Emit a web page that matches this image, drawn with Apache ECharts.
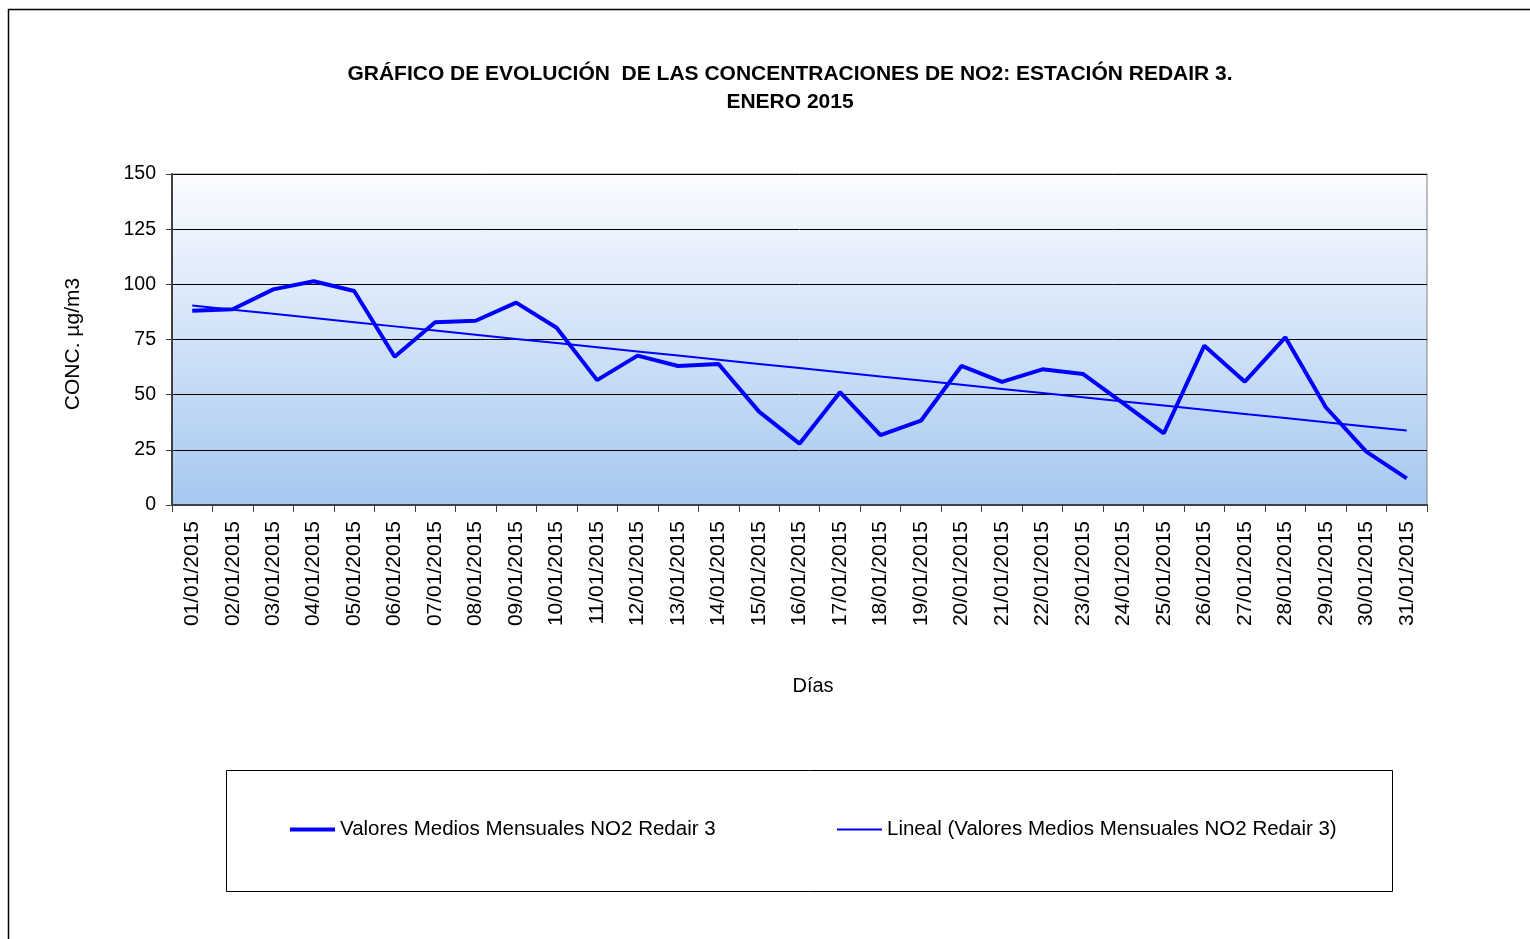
<!DOCTYPE html>
<html>
<head>
<meta charset="utf-8">
<title>NO2 Redair 3 - Enero 2015</title>
<script src="https://cdn.jsdelivr.net/npm/echarts@6/dist/echarts.min.js"></script>
<style>
  html, body { margin: 0; padding: 0; background: #fff; }
  #chart { width: 1530px; height: 939px; }
</style>
</head>
<body>
<div id="chart"></div>
<script>
// días de enero 2015
const dias = [
  '01/01/2015', '02/01/2015', '03/01/2015', '04/01/2015', '05/01/2015', '06/01/2015',
  '07/01/2015', '08/01/2015', '09/01/2015', '10/01/2015', '11/01/2015', '12/01/2015',
  '13/01/2015', '14/01/2015', '15/01/2015', '16/01/2015', '17/01/2015', '18/01/2015',
  '19/01/2015', '20/01/2015', '21/01/2015', '22/01/2015', '23/01/2015', '24/01/2015',
  '25/01/2015', '26/01/2015', '27/01/2015', '28/01/2015', '29/01/2015', '30/01/2015',
  '31/01/2015'
];
// valores medios NO2 (µg/m3)
const valoresNO2 = [
  88, 88.7, 97.7, 101.4, 97, 67.2, 82.8, 83.5, 91.7, 80.3,
  56.6, 67.7, 63, 63.9, 42.3, 27.8, 51.1, 31.7, 38.2, 63,
  55.8, 61.5, 59.4, 46.1, 32.5, 72.2, 55.9, 76, 44.3, 24.2,
  12.1
];
// marcas del eje Y
const yMin = 0;
const yMax = 150;
const yPaso = 25;

const nombreSerie = 'Valores Medios Mensuales NO2 Redair 3';
const nombreTendencia = 'Lineal (Valores Medios Mensuales NO2 Redair 3)';

// recta de regresión lineal (mínimos cuadrados) sobre los valores
const ajusteLineal = (ys) => {
  const n = ys.length;
  let sx = 0, sy = 0, sxy = 0, sxx = 0;
  ys.forEach((y, i) => {
    const x = i + 1;
    sx += x; sy += y; sxy += x * y; sxx += x * x;
  });
  const b = (n * sxy - sx * sy) / (n * sxx - sx * sx);
  const a = (sy - b * sx) / n;
  return ys.map((_, i) => +(a + b * (i + 1)).toFixed(2));
};
const tendencia = ajusteLineal(valoresNO2);

const fuente = '"Liberation Sans", Arial, sans-serif';
const chart = echarts.init(document.getElementById('chart'));

chart.setOption({
  animation: false,
  backgroundColor: '#ffffff',
  textStyle: { fontFamily: fuente, color: '#000' },
  graphic: [
    // marco exterior
    {
      type: 'rect',
      shape: { x: 8.5, y: 9.5, width: 1540, height: 960 },
      style: { fill: 'none', stroke: '#000', lineWidth: 1.5 },
      silent: true
    },
    // caja de la leyenda
    {
      type: 'rect',
      shape: { x: 226.5, y: 770.5, width: 1166, height: 121 },
      style: { fill: '#fff', stroke: '#000', lineWidth: 1 },
      silent: true,
      z: -1
    },
    {
      type: 'text',
      x: 790, y: 88,
      style: {
        text: 'GRÁFICO DE EVOLUCIÓN  DE LAS CONCENTRACIONES DE NO2: ESTACIÓN REDAIR 3.\nENERO 2015',
        fill: '#000', font: 'bold 21px ' + fuente,
        align: 'center', verticalAlign: 'middle', lineHeight: 28
      }
    },
    {
      type: 'text',
      x: 813, y: 686,
      style: {
        text: 'Días', fill: '#000', font: '20px ' + fuente,
        align: 'center', verticalAlign: 'middle'
      }
    },
    {
      type: 'text',
      x: 73, y: 344,
      rotation: Math.PI / 2,
      style: {
        text: 'CONC. µg/m3', fill: '#000', font: '21px ' + fuente,
        align: 'center', verticalAlign: 'middle'
      }
    }
  ],
  legend: [
    {
      left: 290, top: 819, padding: 0,
      data: [nombreSerie],
      icon: 'rect',
      itemWidth: 45, itemHeight: 4, itemGap: 6,
      textStyle: { fontSize: 20.5, fontFamily: fuente, color: '#000' },
      selectedMode: false
    },
    {
      left: 837, top: 819, padding: 0,
      data: [nombreTendencia],
      icon: 'rect',
      itemWidth: 45, itemHeight: 2, itemGap: 6,
      textStyle: { fontSize: 20.5, fontFamily: fuente, color: '#000' },
      selectedMode: false
    }
  ],
  grid: {
    left: 172, right: 103, top: 174, bottom: 434,
    show: true,
    borderColor: '#808080',
    borderWidth: 1,
    backgroundColor: new echarts.graphic.LinearGradient(0, 0, 0, 1, [
      { offset: 0, color: '#fbfcff' },
      { offset: 1, color: '#a6c8f0' }
    ])
  },
  xAxis: {
    type: 'category',
    data: dias,
    boundaryGap: true,
    axisLine: { lineStyle: { color: '#404040', width: 2 } },
    axisTick: { show: true, length: 7, alignWithLabel: false, lineStyle: { color: '#404040' } },
    axisLabel: {
      rotate: 90, interval: 0, margin: 16,
      fontSize: 21, fontFamily: fuente, color: '#000'
    },
    splitLine: { show: false }
  },
  yAxis: {
    type: 'value',
    min: yMin, max: yMax, interval: yPaso,
    axisLine: { show: true, lineStyle: { color: '#404040', width: 2 } },
    axisTick: { show: true, length: 6, lineStyle: { color: '#404040' } },
    axisLabel: { margin: 16, fontSize: 19.5, fontFamily: fuente, color: '#000' },
    splitLine: { show: true, lineStyle: { color: '#000', width: 1 } }
  },
  series: [
    {
      name: nombreSerie,
      type: 'line',
      data: valoresNO2,
      symbol: 'none',
      lineStyle: { color: '#0000ff', width: 4 },
      itemStyle: { color: '#0000ff' },
      z: 3
    },
    {
      name: nombreTendencia,
      type: 'line',
      data: tendencia,
      symbol: 'none',
      lineStyle: { color: '#0000ff', width: 2 },
      itemStyle: { color: '#0000ff' },
      z: 4
    }
  ]
});
</script>
</body>
</html>
